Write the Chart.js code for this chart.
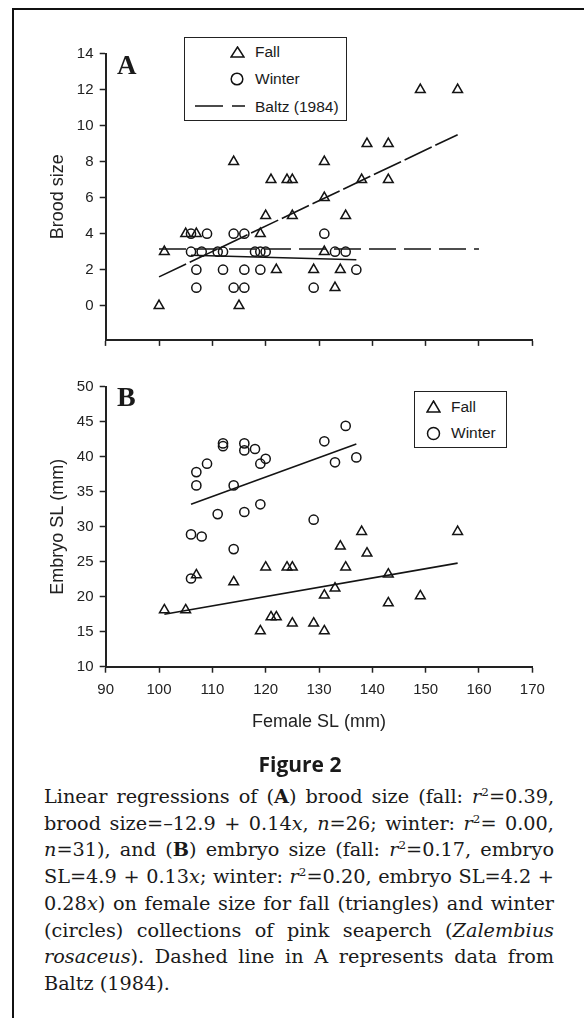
<!DOCTYPE html>
<html>
<head>
<meta charset="utf-8">
<title>Figure 2</title>
<script src="https://cdn.jsdelivr.net/npm/chart.js@4.4.0/dist/chart.umd.min.js"></script>
<style>
  body { margin: 0; width: 584px; height: 1018px; position: relative; overflow: hidden; background: #fff; color: #1a1a1a; font-family: "Liberation Sans", Arial, sans-serif; }
  #frame { position: absolute; left: 12px; top: 8px; width: 580px; height: 1030px; border-left: 2.5px solid #111; border-top: 2.5px solid #111; }
  canvas { position: absolute; left: 0; }
  #chartA { top: 0; }
  #chartB { top: 355px; }
  .legend { position: absolute; box-sizing: border-box; border: 1.5px solid #222; background: #fff; }
  .item { position: absolute; font-size: 15.5px; line-height: 20px; height: 20px; white-space: nowrap; }
  .mark { position: absolute; }
  .panel { position: absolute; font-family: "Liberation Serif", "Times New Roman", serif; font-weight: bold; }
  #figno { position: absolute; left: 0; width: 600px; top: 750px; text-align: center; font-family: "Open Sans", "Noto Sans", sans-serif; font-weight: 700; font-size: 21px; line-height: 28px; }
  #caption { position: absolute; left: 44px; top: 784px; width: 510px; font-family: "DejaVu Serif", serif; font-size: 18px; line-height: 26.7px; }
  #caption div { text-align: justify; text-align-last: justify; white-space: nowrap; }
  #caption div.last { text-align-last: left; }
  #caption sup { font-size: 0.62em; line-height: 0; vertical-align: 0.55em; }
</style>
</head>
<body>
<div id="frame"></div>

<canvas id="chartA" width="584" height="360"></canvas>
<canvas id="chartB" width="584" height="385"></canvas>

<div class="panel" style="left:117px; top:52px; font-size:27px; line-height:27px;">A</div>
<div class="panel" style="left:117px; top:383px; font-size:28px; line-height:28px;">B</div>

<!-- legend A -->
<div class="legend" style="left:184px; top:37px; width:163px; height:84px;"></div>
<svg class="mark" style="left:230px; top:46px;" width="15" height="12"><polygon points="7.5,1 14,11 1,11" fill="none" stroke="#111" stroke-width="1.5"/></svg>
<div class="item" style="left:255px; top:42px;">Fall</div>
<svg class="mark" style="left:230px; top:72px;" width="14" height="14"><circle cx="7" cy="7" r="5.8" fill="none" stroke="#111" stroke-width="1.5"/></svg>
<div class="item" style="left:255px; top:69px;">Winter</div>
<svg class="mark" style="left:194px; top:102px;" width="54" height="8"><line x1="1" y1="4" x2="52" y2="4" stroke="#111" stroke-width="1.6" stroke-dasharray="28 9 13 100"/></svg>
<div class="item" style="left:255px; top:97px;">Baltz (1984)</div>

<!-- legend B -->
<div class="legend" style="left:414px; top:391px; width:93px; height:57px;"></div>
<svg class="mark" style="left:426px; top:400px;" width="15" height="13"><polygon points="7.5,1 14,12 1,12" fill="none" stroke="#111" stroke-width="1.5"/></svg>
<div class="item" style="left:451px; top:397px;">Fall</div>
<svg class="mark" style="left:426px; top:426px;" width="15" height="15"><circle cx="7.5" cy="7.5" r="6" fill="none" stroke="#111" stroke-width="1.5"/></svg>
<div class="item" style="left:451px; top:423px;">Winter</div>

<div id="figno">Figure 2</div>
<div id="caption">
  <div>Linear regressions of (<b>A</b>) brood size (fall: <i>r</i><sup>2</sup>=0.39,</div>
  <div>brood size=–12.9 + 0.14<i>x</i>, <i>n</i>=26; winter: <i>r</i><sup>2</sup>= 0.00,</div>
  <div><i>n</i>=31), and (<b>B</b>) embryo size (fall: <i>r</i><sup>2</sup>=0.17, embryo</div>
  <div>SL=4.9 + 0.13<i>x</i>; winter: <i>r</i><sup>2</sup>=0.20, embryo SL=4.2 +</div>
  <div>0.28<i>x</i>) on female size for fall (triangles) and winter</div>
  <div>(circles) collections of pink seaperch (<i>Zalembius</i></div>
  <div><i>rosaceus</i>). Dashed line in A represents data from</div>
  <div class="last">Baltz (1984).</div>
</div>

<script>
// x axis (female SL, mm)
const slTicks = [90, 100, 110, 120, 130, 140, 150, 160, 170];
const broodTicks = [0, 2, 4, 6, 8, 10, 12, 14];
const embryoTicks = [10, 15, 20, 25, 30, 35, 40, 45, 50];

// panel A - brood size
const fallA_SL    = [100, 101, 105, 107, 114, 115, 119, 120, 121, 122, 124, 125, 125, 129, 131, 131, 131, 133, 134, 135, 138, 139, 143, 143, 149, 156];
const fallA_brood = [0,   3,   4,   4,   8,   0,   4,   5,   7,   2,   7,   7,   5,   2,   8,   6,   3,   1,   2,   5,   7,   9,   9,   7,   12,  12];

const winterA_SL    = [106, 109, 114, 116, 131, 106, 108, 111, 112, 118, 119, 120, 133, 135, 107, 112, 116, 119, 137, 107, 114, 116, 129];
const winterA_brood = [4,   4,   4,   4,   4,   3,   3,   3,   3,   3,   3,   3,   3,   3,   2,   2,   2,   2,   2,   1,   1,   1,   1];

// fitted lines in A (end points as drawn)
const fallFitA_x = [100, 156];
const fallFitA_y = [1.6, 9.5];
const winterFitA_x = [106, 137];
const winterFitA_y = [2.8, 2.55];
const baltzA_x = [100, 160];
const baltzA_y = [3.15, 3.15];

// panel B - embryo SL
const fallB_SL  = [101, 105, 107, 114, 120, 124, 125, 119, 121, 122, 125, 129, 131, 131, 133, 134, 138, 139, 135, 143, 143, 149, 156];
const fallB_emb = [18.1, 18.1, 23.1, 22.1, 24.2, 24.2, 24.2, 15.1, 17.1, 17.1, 16.2, 16.2, 15.1, 20.2, 21.2, 27.2, 29.3, 26.2, 24.2, 23.2, 19.1, 20.1, 29.3];

const winterB_SL  = [112, 112, 116, 116, 118, 119, 120, 109, 107, 107, 114, 111, 116, 119, 106, 108, 114, 106, 129, 131, 135, 133, 137];
const winterB_emb = [41.9, 41.5, 41.9, 40.9, 41.1, 39.0, 39.7, 39.0, 37.8, 35.9, 35.9, 31.8, 32.1, 33.2, 28.9, 28.6, 26.8, 22.6, 31.0, 42.2, 44.4, 39.2, 39.9];

const fallFitB_x = [101, 156];
const fallFitB_y = [17.5, 24.8];
const winterFitB_x = [106, 137];
const winterFitB_y = [33.2, 41.8];

function pts(xs, ys) {
  return xs.map((x, i) => ({ x: x, y: ys[i] }));
}

const ink = '#141414';
const tickFont = { family: 'Liberation Sans', size: 15 };
const titleFont = { family: 'Liberation Sans', size: 18 };

function markers(label, xs, ys, style, r) {
  return {
    label: label,
    data: pts(xs, ys),
    pointStyle: style,
    pointRadius: r,
    pointBorderColor: ink,
    pointBackgroundColor: 'rgba(0,0,0,0)',
    pointBorderWidth: 1.5,
    showLine: false
  };
}

function fitLine(label, xs, ys, dash) {
  return {
    label: label,
    data: pts(xs, ys),
    showLine: true,
    pointRadius: 0,
    borderColor: ink,
    borderWidth: 1.6,
    borderDash: dash || []
  };
}

function axisGrid() {
  return {
    display: true,
    drawOnChartArea: false,
    drawTicks: true,
    tickLength: 6,
    tickWidth: 1.5,
    tickColor: '#222'
  };
}

// Panel A
new Chart(document.getElementById('chartA'), {
  type: 'scatter',
  data: {
    datasets: [
      fitLine('Baltz (1984)', baltzA_x, baltzA_y, [27, 8]),
      fitLine('Fall fit', fallFitA_x, fallFitA_y, [30, 4]),
      fitLine('Winter fit', winterFitA_x, winterFitA_y),
      markers('Fall', fallA_SL, fallA_brood, 'triangle', 5.6),
      markers('Winter', winterA_SL, winterA_brood, 'circle', 4.6)
    ]
  },
  options: {
    responsive: false,
    animation: false,
    layout: { padding: { left: 0, top: 53.7, right: 51.7, bottom: 0 } },
    plugins: { legend: { display: false }, tooltip: { enabled: false } },
    scales: {
      x: {
        type: 'linear',
        min: slTicks[0],
        max: slTicks[slTicks.length - 1],
        afterBuildTicks: s => { s.ticks = slTicks.map(v => ({ value: v })); },
        ticks: { display: false },
        grid: axisGrid(),
        border: { display: true, color: '#222', width: 2 },
        afterFit: s => { s.height = 20.1; }
      },
      y: {
        type: 'linear',
        min: -1.9,
        max: 14,
        afterBuildTicks: s => { s.ticks = broodTicks.map(v => ({ value: v })); },
        ticks: { font: tickFont, color: '#222', padding: 6.2 },
        grid: axisGrid(),
        border: { display: true, color: '#222', width: 2 },
        title: { display: true, text: 'Brood size', font: titleFont, color: '#222', padding: { top: 47, bottom: 0 } },
        afterFit: s => { s.width = 105.7; }
      }
    }
  }
});

// Panel B
new Chart(document.getElementById('chartB'), {
  type: 'scatter',
  data: {
    datasets: [
      fitLine('Fall fit', fallFitB_x, fallFitB_y),
      fitLine('Winter fit', winterFitB_x, winterFitB_y),
      markers('Fall', fallB_SL, fallB_emb, 'triangle', 5.6),
      markers('Winter', winterB_SL, winterB_emb, 'circle', 4.6)
    ]
  },
  options: {
    responsive: false,
    animation: false,
    layout: { padding: { left: 0, top: 31.7, right: 51.7, bottom: 0 } },
    plugins: { legend: { display: false }, tooltip: { enabled: false } },
    scales: {
      x: {
        type: 'linear',
        min: slTicks[0],
        max: slTicks[slTicks.length - 1],
        afterBuildTicks: s => { s.ticks = slTicks.map(v => ({ value: v })); },
        ticks: { font: tickFont, color: '#222', padding: 8.3, maxRotation: 0 },
        grid: axisGrid(),
        border: { display: true, color: '#222', width: 2 },
        title: { display: true, text: 'Female SL (mm)', font: titleFont, color: '#222', padding: { top: 0, bottom: 7.5 } },
        afterFit: s => { s.height = 73.3; }
      },
      y: {
        type: 'linear',
        min: embryoTicks[0],
        max: embryoTicks[embryoTicks.length - 1],
        afterBuildTicks: s => { s.ticks = embryoTicks.map(v => ({ value: v })); },
        ticks: { font: tickFont, color: '#222', padding: 6.2 },
        grid: axisGrid(),
        border: { display: true, color: '#222', width: 2 },
        title: { display: true, text: 'Embryo SL (mm)', font: titleFont, color: '#222', padding: { top: 47, bottom: 0 } },
        afterFit: s => { s.width = 105.7; }
      }
    }
  }
});

// shrink caption font until the widest line fits the column, then justify
function fitCaption() {
  const box = document.getElementById('caption');
  const lines = Array.from(box.querySelectorAll('div'));
  const widest = () => Math.max(...lines.map(d => {
    d.style.display = 'inline-block';
    const w = d.getBoundingClientRect().width;
    d.style.display = '';
    return w;
  }));
  let size = 21;
  box.style.fontSize = size + 'px';
  while (size > 14 && widest() > 510) {
    size -= 0.25;
    box.style.fontSize = size + 'px';
  }
}
fitCaption();
</script>
</body>
</html>
